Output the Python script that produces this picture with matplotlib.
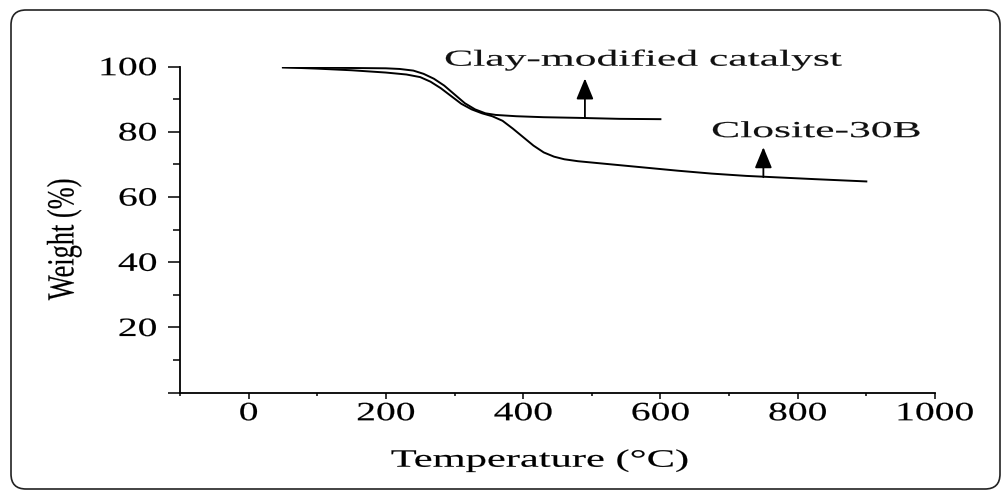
import matplotlib
matplotlib.use("Agg")
import matplotlib.pyplot as plt
from matplotlib.patheffects import AbstractPathEffect
from matplotlib.transforms import Affine2D
from matplotlib.patches import FancyBboxPatch, ArrowStyle

# ---- data ----
clay_temp = [50, 100, 150, 200, 220, 240, 255, 270, 285, 300, 315, 330, 345,
             360, 390, 430, 480, 540, 600]
clay_weight = [99.8, 99.7, 99.6, 99.5, 99.3, 98.8, 97.8, 96.3, 94.2, 91.5,
               88.8, 86.9, 85.7, 85.2, 84.8, 84.5, 84.3, 84.0, 83.9]

closite_temp = [50, 100, 150, 200, 230, 250, 265, 280, 295, 310, 325, 340, 355,
                370, 385, 400, 415, 430, 445, 460, 480, 525, 575, 625, 675,
                725, 775, 825, 900]
closite_weight = [99.8, 99.4, 98.9, 98.2, 97.6, 96.8, 95.4, 93.4, 91.0, 88.6,
                  86.9, 85.7, 84.8, 83.4, 81.0, 78.4, 75.8, 73.7, 72.4, 71.6,
                  71.0, 70.1, 69.1, 68.1, 67.2, 66.5, 66.0, 65.5, 64.8]

x_ticks = [0, 200, 400, 600, 800, 1000]
x_minor = [-100, 100, 300, 500, 700, 900]
y_ticks = [0, 20, 40, 60, 80, 100]
y_tick_labels = ["", "20", "40", "60", "80", "100"]
y_minor = [10, 30, 50, 70, 90]

labels = ["Clay-modified catalyst", "Closite-30B"]
label_pos = [(575, 100.3), (827, 78.4)]
arrow_x = [490, 750]
arrow_tail = [84.3, 66.1]
arrow_head = [96.4, 75.3]


class Stretch(AbstractPathEffect):
    """Draw text glyphs with an extra stretch (the reference is widened)."""
    def __init__(self, sx=1.0, sy=1.0, anchor="center", stroke=0.12):
        super().__init__()
        self.sx, self.sy, self.anchor, self.stroke = sx, sy, anchor, stroke

    def draw_path(self, renderer, gc, tpath, affine, rgbFace=None):
        ext = tpath.get_extents()
        if self.anchor == "right":
            cx = ext.x1
        elif self.anchor == "left":
            cx = ext.x0
        else:
            cx = 0.5 * (ext.x0 + ext.x1)
        cy = 0.5 * (ext.y0 + ext.y1)
        t = (Affine2D().translate(-cx, -cy).scale(self.sx, self.sy)
             .translate(cx, cy) + affine)
        gc0 = renderer.new_gc()
        gc0.copy_properties(gc)
        if rgbFace is not None:
            gc0.set_foreground(rgbFace)
        gc0.set_linewidth(self.stroke)
        renderer.draw_path(gc0, tpath, t, rgbFace)
        gc0.restore()


plt.rcParams["font.family"] = ["Liberation Serif", "DejaVu Serif"]

fig = plt.figure(figsize=(10.02, 4.91), dpi=100)
ax = fig.add_axes([0.1796, 0.2002, 0.9331 - 0.1796, 0.8642 - 0.2002])

ax.plot(clay_temp, clay_weight, color="black", lw=1.4)
ax.plot(closite_temp, closite_weight, color="black", lw=1.4)

ax.set_xlim(-100, 1000)
ax.set_ylim(0, 100)
for s in ["top", "right"]:
    ax.spines[s].set_visible(False)
for s in ["left", "bottom"]:
    ax.spines[s].set_linewidth(1.3)

ax.set_xticks(x_ticks)
ax.set_xticks(x_minor, minor=True)
ax.set_yticks(y_ticks)
ax.set_yticks(y_minor, minor=True)
ax.set_yticklabels(y_tick_labels)

ax.tick_params(axis="x", which="major", length=4.3, width=1.1, pad=3.3,
               labelsize=19, direction="out")
ax.tick_params(axis="x", which="minor", length=2.5, width=1.1, direction="out")
ax.tick_params(axis="y", which="major", length=8.6, width=1.1, pad=8,
               labelsize=19, direction="out")
ax.tick_params(axis="y", which="minor", length=5, width=1.1, direction="out")

for lab in ax.get_xticklabels():
    lab.set_path_effects([Stretch(sx=1.5)])
for lab in ax.get_yticklabels():
    lab.set_path_effects([Stretch(sx=1.5, anchor="right")])

ax.set_xlabel("Temperature (°C)", fontsize=18, va="baseline")
ax.xaxis.set_label_coords(0.477, -0.227)
ax.xaxis.label.set_path_effects([Stretch(sx=1.7)])

ax.set_ylabel("Weight (%)", fontsize=19, ha="center", va="center",
              rotation_mode="default")
ax.yaxis.set_label_coords(-0.153, 0.47)
ax.yaxis.label.set_path_effects([Stretch(sy=1.45)])

style = ArrowStyle("-|>", head_length=0.8, head_width=0.33)
for txt, (tx, ty), axp, t0, t1 in zip(labels, label_pos, arrow_x, arrow_tail, arrow_head):
    t = ax.text(tx, ty, txt, fontsize=16.5, ha="center", va="baseline",
                color="#111111")
    t.set_path_effects([Stretch(sx=1.9)])
    ax.annotate("", xy=(axp, t1), xytext=(axp, t0),
                arrowprops=dict(arrowstyle=style, color="black", lw=1.3,
                                mutation_scale=16, shrinkA=0, shrinkB=0))

border = FancyBboxPatch((0.11, 0.02), 9.89, 4.79,
                        boxstyle="round,pad=0,rounding_size=0.15",
                        transform=fig.dpi_scale_trans, fill=False,
                        edgecolor="#222222", lw=1.2, clip_on=False)
fig.add_artist(border)

fig.savefig("out.png", dpi=100)
